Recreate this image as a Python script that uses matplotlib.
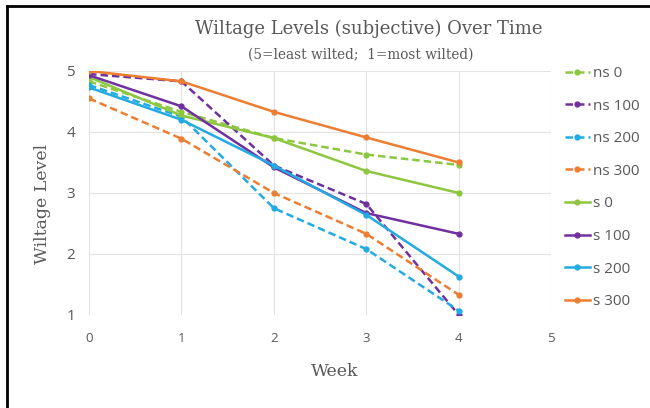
import matplotlib
matplotlib.use("Agg")
import matplotlib.pyplot as plt
from matplotlib.lines import Line2D

weeks = [0, 1, 2, 3, 4]
labels = ["ns 0", "ns 100", "ns 200", "ns 300", "s 0", "s 100", "s 200", "s 300"]

ns_0 = [4.83, 4.33, 3.90, 3.63, 3.46]
ns_100 = [4.95, 4.83, 3.45, 2.82, 1.00]
ns_200 = [4.77, 4.25, 2.75, 2.08, 1.07]
ns_300 = [4.55, 3.89, 3.00, 2.33, 1.33]
s_0 = [4.90, 4.27, 3.90, 3.36, 3.00]
s_100 = [4.93, 4.42, 3.42, 2.67, 2.33]
s_200 = [4.73, 4.20, 3.45, 2.64, 1.63]
s_300 = [5.00, 4.83, 4.33, 3.91, 3.50]

series = [ns_0, ns_100, ns_200, ns_300, s_0, s_100, s_200, s_300]
colors = ["#8DC63F", "#7030A0", "#22AAE2", "#ED7D31"] * 2
styles = ["--"] * 4 + ["-"] * 4

fig = plt.figure(figsize=(6.5, 4.08), dpi=100)
ax = fig.add_axes([0.137, 0.228, 0.711, 0.598])

for vals, lab, c, ls in zip(series, labels, colors, styles):
    ax.plot(weeks, vals, ls, color=c, lw=1.8, marker="o", ms=3.5,
            label=lab, dashes=(3, 1.6) if ls == "--" else (None, None))

ax.set_xlim(0, 5)
ax.set_ylim(1, 5)
ax.set_xticks([0, 1, 2, 3, 4, 5])
ax.set_yticks([1, 2, 3, 4, 5])
ax.grid(True, color="#E3E3E3", lw=0.8)
ax.set_axisbelow(True)
for s in ax.spines.values():
    s.set_visible(False)
ax.tick_params(length=0, colors="#595959", labelsize=9.5)
ax.tick_params(axis="x", pad=12)
ax.tick_params(axis="y", labelsize=11, pad=10)
for t in ax.get_xticklabels() + ax.get_yticklabels():
    t.set_family("Open Sans")

fig.text(0.568, 0.929, "Wiltage Levels (subjective) Over Time", ha="center", va="center",
         family="DejaVu Serif", fontsize=13, color="#595959")
fig.text(0.555, 0.866, "(5=least wilted;  1=most wilted)", ha="center", va="center",
         family="DejaVu Serif", fontsize=9.8, color="#595959")
fig.text(0.065, 0.5, "Wiltage Level", rotation=90, ha="center", va="center",
         family="DejaVu Serif", fontsize=12.5, color="#595959")
fig.text(0.515, 0.09, "Week", ha="center", va="center",
         family="DejaVu Serif", fontsize=12.5, color="#595959")

leg = ax.legend(loc="upper left", bbox_to_anchor=(1.03, 1.02), frameon=False,
                borderaxespad=0, borderpad=0,
                handlelength=1.6, handletextpad=0.2,
                labelspacing=1.15, labelcolor="#595959",
                prop={"family": "Open Sans", "size": 11})

# frame on left and top
fig.add_artist(Line2D([0.01, 0.01], [0.0, 0.985], color="black", lw=2))
fig.add_artist(Line2D([0.01, 1.0], [0.985, 0.985], color="black", lw=2))

fig.savefig("out.png", dpi=100)
